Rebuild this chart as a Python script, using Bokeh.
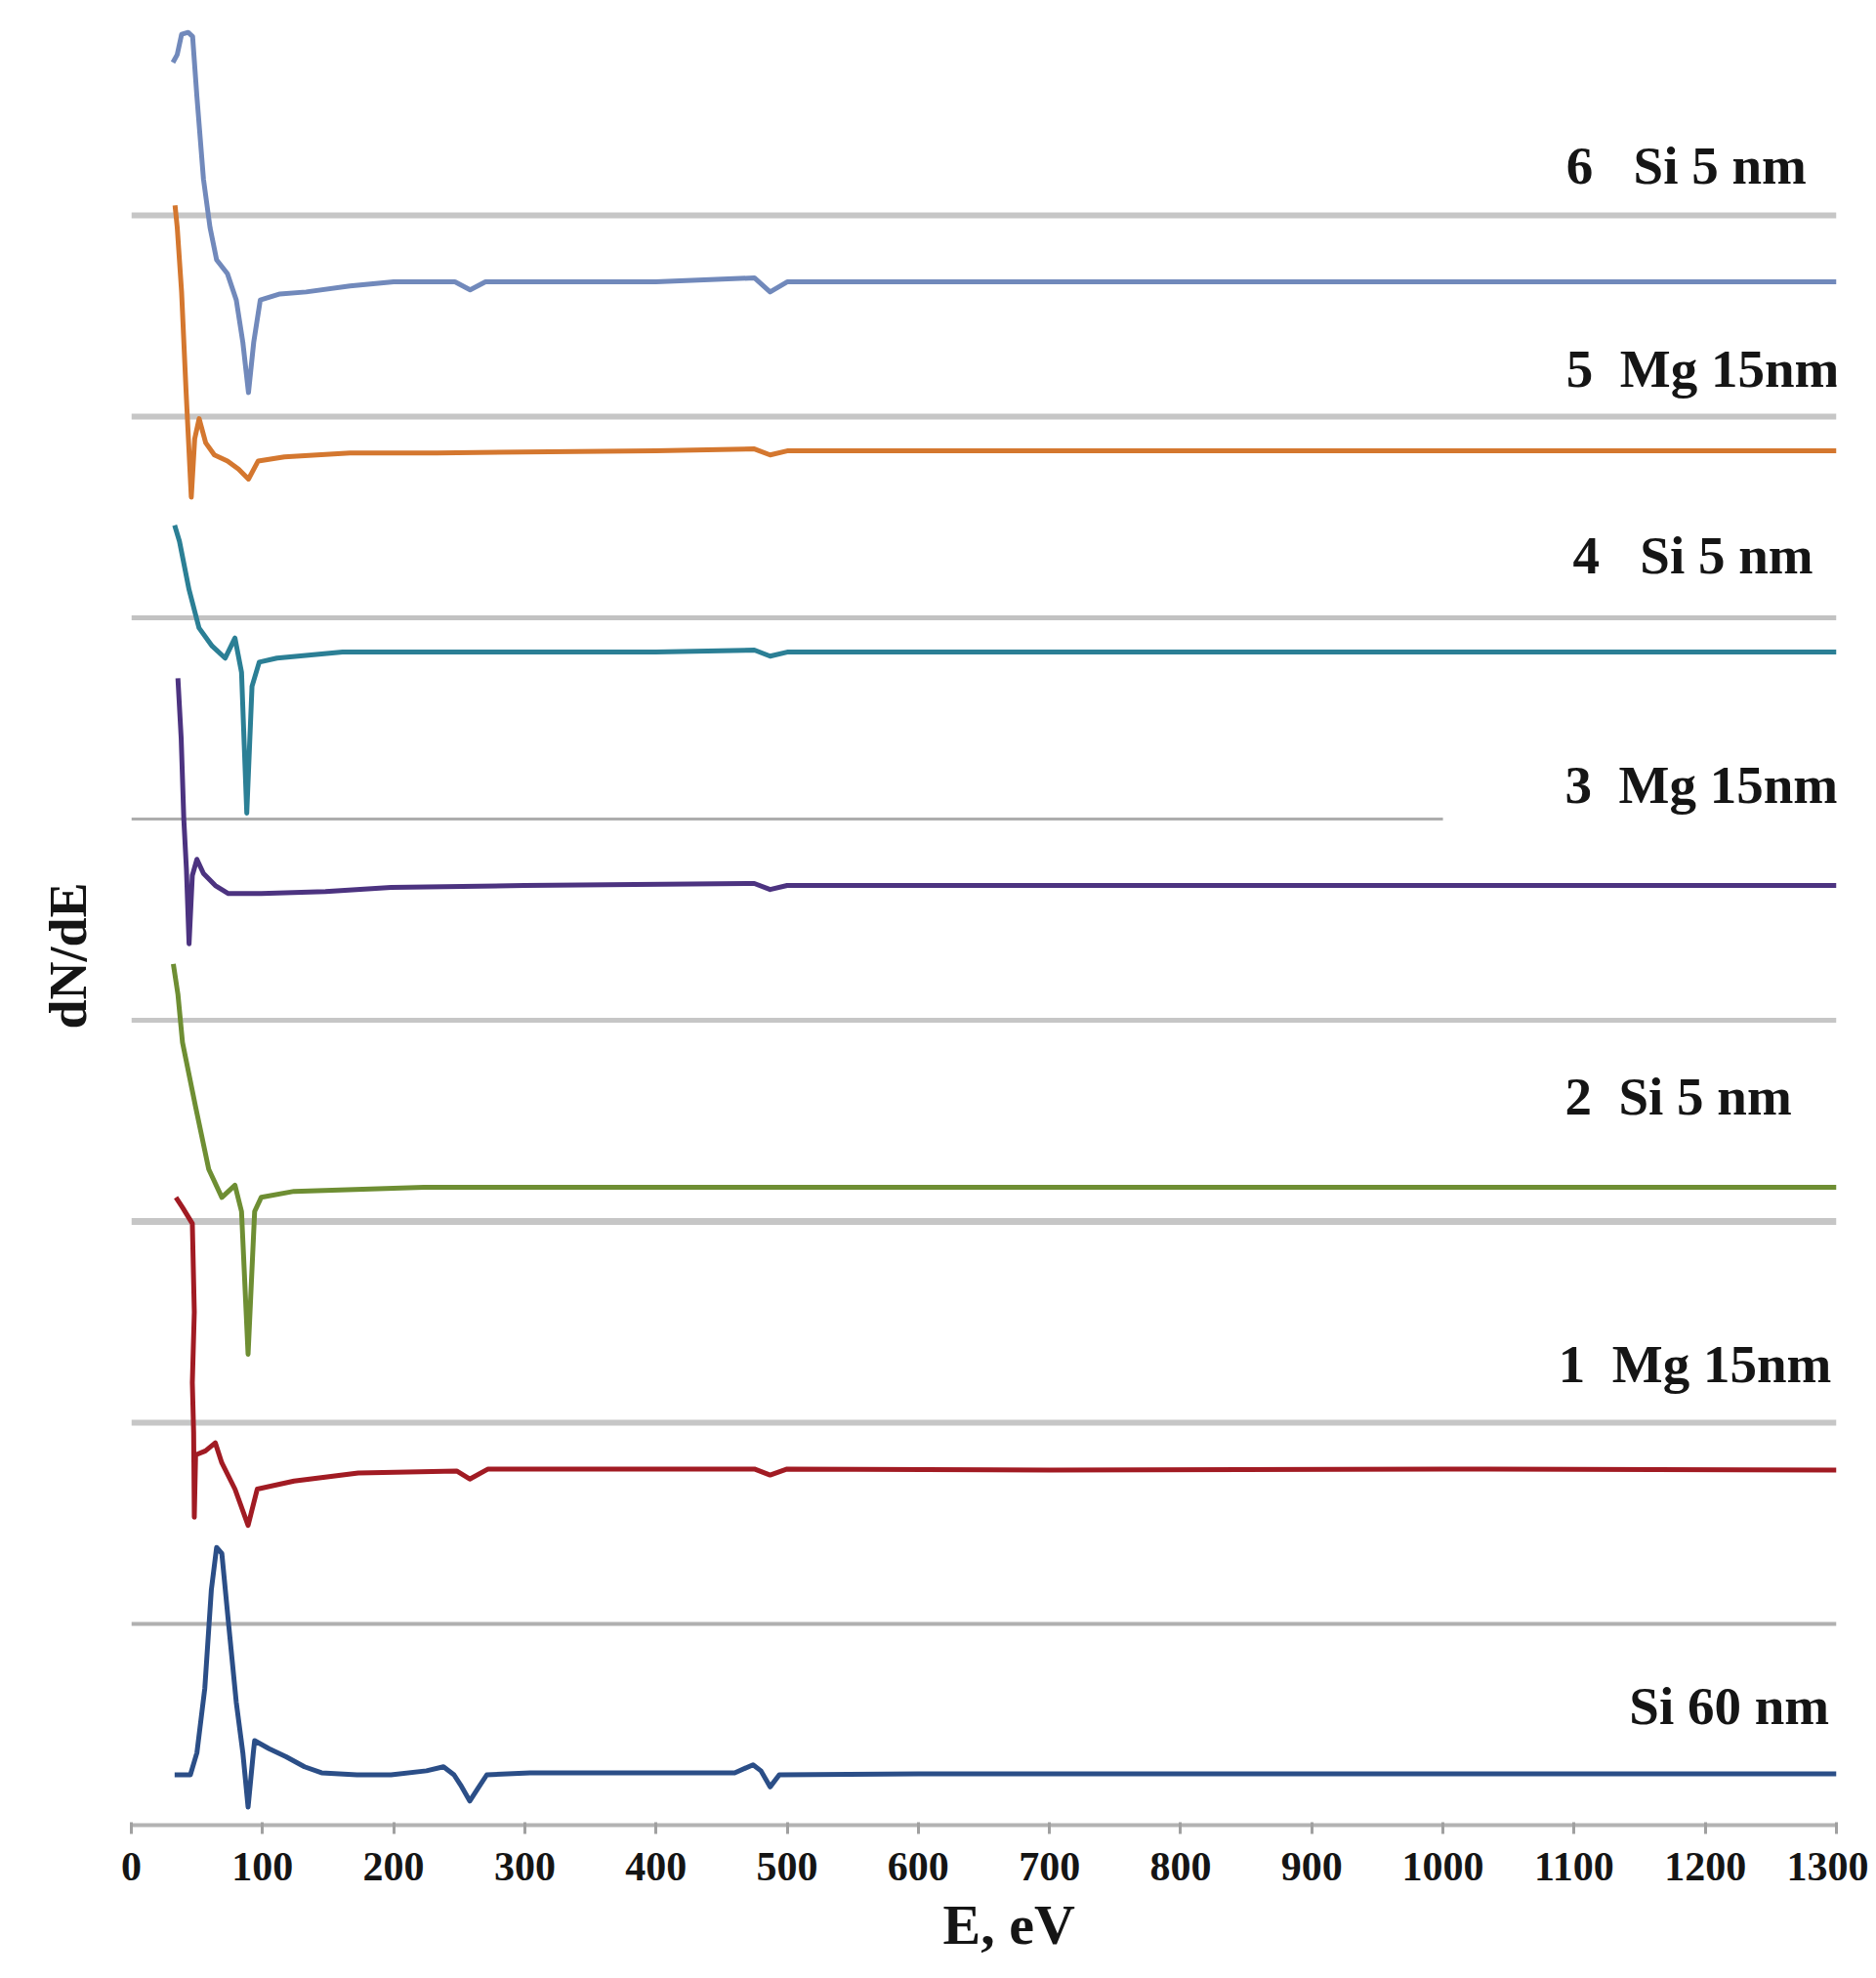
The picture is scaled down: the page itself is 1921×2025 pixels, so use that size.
from bokeh.plotting import figure
from bokeh.models import FixedTicker, Range1d, ColumnDataSource, Title
from bokeh.core.properties import value
from bokeh.embed import file_html
from bokeh.resources import INLINE

# ---------------- data (E in eV, dN/dE in offset units) ----------------
E_si60 = [33, 45, 50, 56, 61, 65, 69, 74, 80, 85, 89, 93, 94, 105, 118, 132, 145, 172, 198, 225,
          238, 246, 251, 258, 264, 271, 304, 400, 460, 474, 480, 487, 494, 600, 800, 1000, 1300]
y_si60 = [0.25, 0.25, 0.36, 0.68, 1.17, 1.38, 1.35, 1.01, 0.61, 0.36, 0.09, 0.36, 0.42, 0.38, 0.34,
          0.29, 0.26, 0.25, 0.25, 0.27, 0.29, 0.25, 0.20, 0.12, 0.18, 0.25, 0.26, 0.26, 0.26, 0.30,
          0.27, 0.19, 0.25, 0.255, 0.255, 0.255, 0.255]

E_1 = [34, 39, 46.5, 48, 46.5, 47.5, 48, 49, 56.5, 64, 69, 79, 89, 96, 124, 173, 248, 258, 272,
       400, 475, 487, 500, 700, 1000, 1300]
y_1 = [3.12, 3.07, 2.99, 2.55, 2.20, 1.95, 1.53, 1.84, 1.86, 1.90, 1.80, 1.67, 1.49, 1.67, 1.71,
       1.75, 1.76, 1.72, 1.77, 1.77, 1.77, 1.74, 1.77, 1.765, 1.77, 1.765]

E_2 = [32, 35.5, 39, 49, 59, 69, 79, 84, 89, 94, 99, 124, 223, 400, 700, 1000, 1300]
y_2 = [4.28, 4.13, 3.89, 3.57, 3.26, 3.12, 3.18, 3.05, 2.34, 3.05, 3.12, 3.15, 3.17, 3.17, 3.17,
       3.17, 3.17]

E_3 = [35.5, 38, 40, 42, 44, 46.5, 50, 55, 64, 74, 99, 148, 198, 300, 475, 487, 500, 700, 1000, 1300]
y_3 = [5.70, 5.40, 5.00, 4.75, 4.38, 4.72, 4.80, 4.73, 4.67, 4.63, 4.63, 4.64, 4.66, 4.67, 4.68,
       4.65, 4.67, 4.67, 4.67, 4.67]

E_4 = [33, 36.7, 44, 51.6, 61.6, 71.5, 79, 84, 88, 92, 97.5, 111, 161, 250, 400, 475, 487, 500,
       700, 1000, 1300]
y_4 = [6.46, 6.38, 6.14, 5.95, 5.86, 5.80, 5.90, 5.73, 5.03, 5.66, 5.78, 5.80, 5.83, 5.83, 5.83,
       5.84, 5.81, 5.83, 5.83, 5.83, 5.83]

E_5 = [33.3, 35, 38.3, 41.7, 45.7, 48.3, 51.7, 56.7, 63.3, 73.3, 81.7, 89.3, 96.7, 116.7, 166.7,
       233, 400, 475, 487, 500, 700, 1000, 1300]
y_5 = [8.05, 7.94, 7.62, 7.13, 6.60, 6.89, 6.99, 6.87, 6.81, 6.78, 6.74, 6.69, 6.78, 6.80, 6.82,
       6.82, 6.83, 6.84, 6.81, 6.83, 6.83, 6.83, 6.83]

E_6 = [31.7, 35, 38.3, 43.3, 46.7, 50, 55, 60, 65, 73.3, 80, 85, 89.3, 93.3, 98.3, 113.3, 133.3,
       166.7, 200, 246.7, 258.3, 270, 400, 475, 487, 500, 700, 1000, 1300]
y_6 = [8.76, 8.80, 8.90, 8.91, 8.89, 8.59, 8.18, 7.94, 7.78, 7.71, 7.58, 7.37, 7.12, 7.37, 7.58,
       7.61, 7.62, 7.65, 7.67, 7.67, 7.63, 7.67, 7.67, 7.69, 7.62, 7.67, 7.67, 7.67, 7.67]

NB = "\u00a0"
series_E = [E_si60, E_1, E_2, E_3, E_4, E_5, E_6]
series_y = [y_si60, y_1, y_2, y_3, y_4, y_5, y_6]
series_labels = ["Si 60 nm",
                 "1" + NB + NB + "Mg 15nm",
                 "2" + NB + NB + "Si 5 nm",
                 "3" + NB + NB + "Mg 15nm",
                 "4" + NB + NB + NB + "Si 5 nm",
                 "5" + NB + NB + "Mg 15nm",
                 "6" + NB + NB + NB + "Si 5 nm"]

grid_levels = [1, 2, 3, 4, 5, 6, 7, 8]
grid_ends = [1300, 1300, 1300, 1300, 1000, 1300, 1300, 1300]

x_ticks = list(range(0, 1301, 100))
x_title = "E, eV"
y_title = "dN/dE"

# ---------------- styles / layout ----------------
colors = ["#2B4E87", "#A11B23", "#6E8E33", "#4C3380", "#2B7F95", "#D4772F", "#7189BB"]
label_pos_E = [1142, 1088, 1093, 1093, 1099, 1094, 1094]
label_pos_y = [0.59, 2.29, 3.62, 5.17, 6.31, 7.24, 8.25]
grid_widths = [4, 6, 7, 5, 3, 5, 6, 6]
grid_colors = ["#B0B0B0", "#C6C6C6", "#C6C6C6", "#C6C6C6", "#ADADAD", "#C2C2C2", "#C6C6C6", "#C6C6C6"]

SERIF = "Liberation Serif"

p = figure(width=1913, height=2017, output_backend="svg", toolbar_location=None,
           x_range=Range1d(0, 1300), y_range=Range1d(0, 9.02),
           min_border_left=134, min_border_right=33, min_border_top=10, min_border_bottom=149,
           title_location=None)

p.xgrid.grid_line_color = None
p.ygrid.grid_line_color = None
p.outline_line_color = None
p.yaxis.visible = False
p.background_fill_color = "white"
p.border_fill_color = "white"

# horizontal gridlines
gsrc = ColumnDataSource(dict(x0=[0] * len(grid_levels), x1=grid_ends, y=grid_levels,
                             w=grid_widths, c=grid_colors))
p.segment(x0="x0", y0="y", x1="x1", y1="y", line_width="w", line_color="c", source=gsrc)

# spectra
for E, y, c in zip(series_E, series_y, colors):
    p.line(E, y, line_color=c, line_width=5, line_join="round")

# labels
p.text(x=label_pos_E, y=label_pos_y, text=series_labels, text_font=value(SERIF),
       text_font_style="bold", text_font_size="55px", text_color="#151515",
       text_align="left", text_baseline="middle")

# x axis
ax = p.xaxis[0]
ax.ticker = FixedTicker(ticks=x_ticks)
ax.axis_line_color = "#B3B3B3"
ax.axis_line_width = 4
ax.major_tick_line_color = "#A0A0A0"
ax.major_tick_line_width = 3
ax.major_tick_out = 9
ax.major_tick_in = 3
ax.minor_tick_line_color = None
ax.major_label_text_font = SERIF
ax.major_label_text_font_style = "bold"
ax.major_label_text_font_size = "42px"
ax.major_label_text_color = "#151515"
ax.major_label_standoff = 19

# axis titles
tb = Title(text=x_title, align="left", offset=831, standoff=16, text_font=SERIF,
           text_font_style="bold", text_font_size="58px", text_color="#151515")
p.add_layout(tb, "below")

tl = Title(text=y_title, align="left", offset=815, standoff=70, text_font=SERIF,
           text_font_style="bold", text_font_size="54px", text_color="#151515")
p.add_layout(tl, "left")

open("out.html", "w").write(file_html(p, INLINE))
